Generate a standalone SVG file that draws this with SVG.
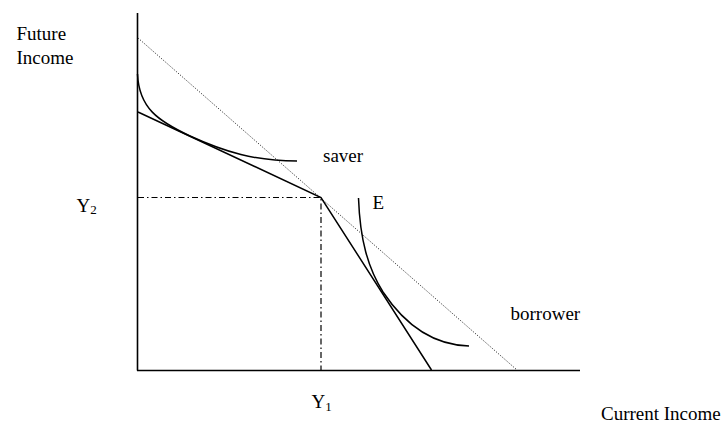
<svg xmlns="http://www.w3.org/2000/svg" width="723" height="425" viewBox="0 0 723 425">
<style>
text{font-family:"Liberation Serif","Times New Roman",serif;font-size:19px;fill:#000}
.sub{font-size:13px}
.ax{stroke:#000;stroke-width:1.6;fill:none}
.ln{stroke:#000;stroke-width:1.5;fill:none}
.dot{stroke:#333;stroke-width:1;fill:none;stroke-dasharray:1.2 1.6}
.dd{stroke:#000;stroke-width:1.2;fill:none;stroke-dasharray:6 3 1.5 3}
</style>
<rect width="723" height="425" fill="#fff"/>
<g id="axes">
<line class="ax" x1="137.5" y1="13" x2="137.5" y2="370.5"/>
<line class="ax" x1="137" y1="370.5" x2="580" y2="370.5"/>
</g>
<g id="connectors">
<line class="dot" x1="138" y1="38" x2="517" y2="370"/>
<polyline class="ln" points="138,112 321,197.5 431.5,370"/>
<polyline class="dd" points="138,197.5 321,197.5 321,370"/>
</g>
<g id="saver-curve">
<path class="ln" d="M137.5,74 C139,108 158,121 190,136 C225,152 255,161 297,161"/>
</g>
<g id="borrower-curve">
<path class="ln" d="M358.5,198 C360,240 368,268 383,292 C405,325 432,345 469,346"/>
</g>
<g id="labels">
<text x="16.5" y="39.5">Future</text>
<text x="16.5" y="64">Income</text>
<text x="323" y="161.5">saver</text>
<text x="372.5" y="209">E</text>
<text x="510.5" y="320">borrower</text>
<text x="76.5" y="211.5">Y<tspan class="sub" dy="2">2</tspan></text>
<text x="311.5" y="408">Y<tspan class="sub" dy="2.5">1</tspan></text>
<text x="601" y="420">Current Income</text>
</g>
</svg>
